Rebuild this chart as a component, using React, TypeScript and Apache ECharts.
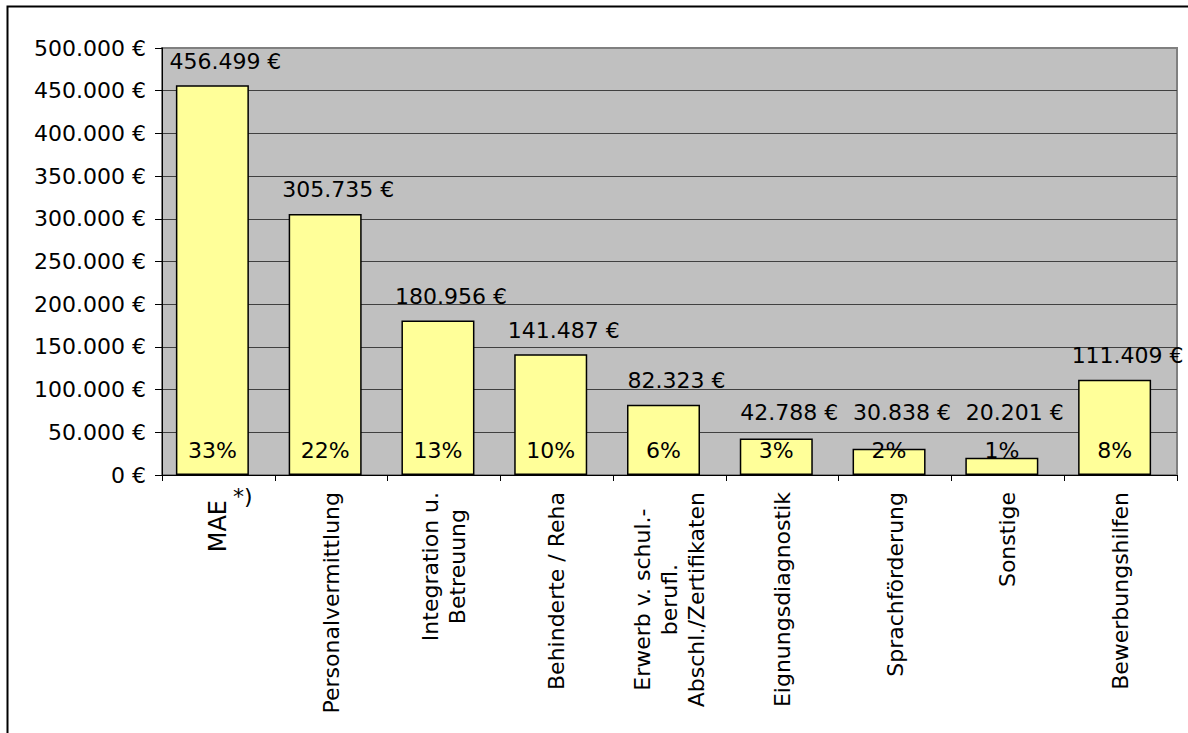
import React, { useEffect, useRef } from "react";
import * as echarts from "echarts";

// ---- data ----
const categories = [
  "MAE",
  "Personalvermittlung",
  "Integration u.\nBetreuung",
  "Behinderte / Reha",
  "Erwerb v. schul.-\nberufl.\nAbschl./Zertifikaten",
  "Eignungsdiagnostik",
  "Sprachförderung",
  "Sonstige",
  "Bewerbungshilfen",
];
const footnoteMark = "*)";
const costs = [456499, 305735, 180956, 141487, 82323, 42788, 30838, 20201, 111409];
const shares = ["33%", "22%", "13%", "10%", "6%", "3%", "2%", "1%", "8%"];
const yMin = 0;
const yMax = 500000;
const yStep = 50000;

// ---- layout / style ----
const W = 1188;
const H = 733;
const GRID = { left: 162, top: 48, right: 11, bottom: 258 };
const FONT = "DejaVu Sans";
const FS = 22;

function euro(n: number): string {
  return String(Math.round(n)).replace(/\B(?=(\d{3})+(?!\d))/g, ".") + " €";
}

export default function App() {
  const ref = useRef<HTMLDivElement>(null);

  useEffect(() => {
    if (!ref.current) return;
    const chart = echarts.init(ref.current, undefined, { renderer: "svg" });
    const plotH = H - GRID.top - GRID.bottom;
    const labelDist = (v: number) => {
      const px = ((v - yMin) / (yMax - yMin)) * plotH;
      return Math.max(13, 52 - px);
    };
    const frame = {
      type: "rect",
      id: "frame",
      silent: true,
      z: 100,
      shape: { x: 7.5, y: 6.5, width: 1400, height: 1000 },
      style: { fill: "none", stroke: "#000", lineWidth: 2 },
    };

    const option: any = {
      animation: false,
      backgroundColor: "#ffffff",
      textStyle: { fontFamily: FONT },
      grid: {
        ...GRID,
        show: true,
        backgroundColor: "#C0C0C0",
        borderColor: "#808080",
        borderWidth: 2,
      },
      xAxis: {
        type: "category",
        data: categories.map((c, i) =>
          i === 0 ? { value: c, textStyle: { padding: [0, 8, 0, 0] } } : c
        ),
        axisLine: { show: true, lineStyle: { color: "#000", width: 1 } },
        axisTick: { show: true, length: 6, lineStyle: { color: "#000" } },
        splitLine: { show: false },
        axisLabel: {
          interval: 0,
          rotate: 90,
          margin: 17,
          color: "#000",
          fontFamily: FONT,
          fontSize: FS,
          formatter: (v: string, i: number) =>
            i === 0
              ? `{m|${v}}`
              : v
                  .split("\n")
                  .map((l) => `{c|${l}}`)
                  .join("\n"),
          rich: {
            c: {
              align: "center",
              fontFamily: FONT,
              fontSize: FS,
              lineHeight: 27,
              color: "#000",
            },
            m: {
              fontFamily: FONT,
              fontSize: 24,
              color: "#000",
            },
          },
        },
      },
      yAxis: {
        type: "value",
        min: yMin,
        max: yMax,
        interval: yStep,
        axisLine: { show: true, lineStyle: { color: "#000", width: 1 } },
        axisTick: { show: true, length: 7, lineStyle: { color: "#000" } },
        axisLabel: {
          margin: 16,
          color: "#000",
          fontFamily: FONT,
          fontSize: FS,
          formatter: (v: number) => euro(v),
        },
        splitLine: {
          show: true,
          showMaxLine: false,
          lineStyle: { color: "#404040", width: 1 },
        },
      },
      series: [
        {
          name: "Kosten",
          type: "bar",
          barWidth: 73,
          barGap: 0,
          data: costs,
          itemStyle: { color: "#FFFF99", borderColor: "#000", borderWidth: 1.5 },
          label: {
            show: true,
            position: "insideBottom",
            distance: 14,
            color: "#000",
            fontFamily: FONT,
            fontSize: FS,
            formatter: (p: any) => shares[p.dataIndex],
          },
        },
        {
          // empty companion column (the original chart reserves a narrow slot right of each bar)
          name: "",
          type: "bar",
          barWidth: 12,
          barGap: 0,
          silent: true,
          data: [],
        },
        {
          name: "Beträge",
          type: "scatter",
          symbolSize: 0,
          silent: true,
          itemStyle: { opacity: 1 },
          data: costs.map((v) => ({ value: v, label: { distance: labelDist(v) } })),
          label: {
            show: true,
            position: "top",
            offset: [7, 0],
            color: "#000",
            opacity: 1,
            fontFamily: FONT,
            fontSize: FS,
            formatter: (p: any) => euro(p.value),
          },
        },
      ],
      graphic: [frame],
    };
    chart.setOption(option);

    const cx = chart.convertToPixel({ xAxisIndex: 0 }, 0) as unknown as number;
    const baseY = H - GRID.bottom;
    chart.setOption({
      graphic: [
        frame,
        {
          type: "text",
          id: "mark",
          silent: true,
          z: 100,
          x: cx + 14.5,
          y: baseY + 10,
          style: {
            text: footnoteMark,
            fontFamily: FONT,
            fontSize: FS,
            fill: "#000",
            align: "left",
            verticalAlign: "top",
          },
        },
      ],
    });

    return () => chart.dispose();
  }, []);

  return (
    <div
      ref={ref}
      style={{ position: "fixed", left: 0, top: 0, width: W, height: H, background: "#fff" }}
    />
  );
}
